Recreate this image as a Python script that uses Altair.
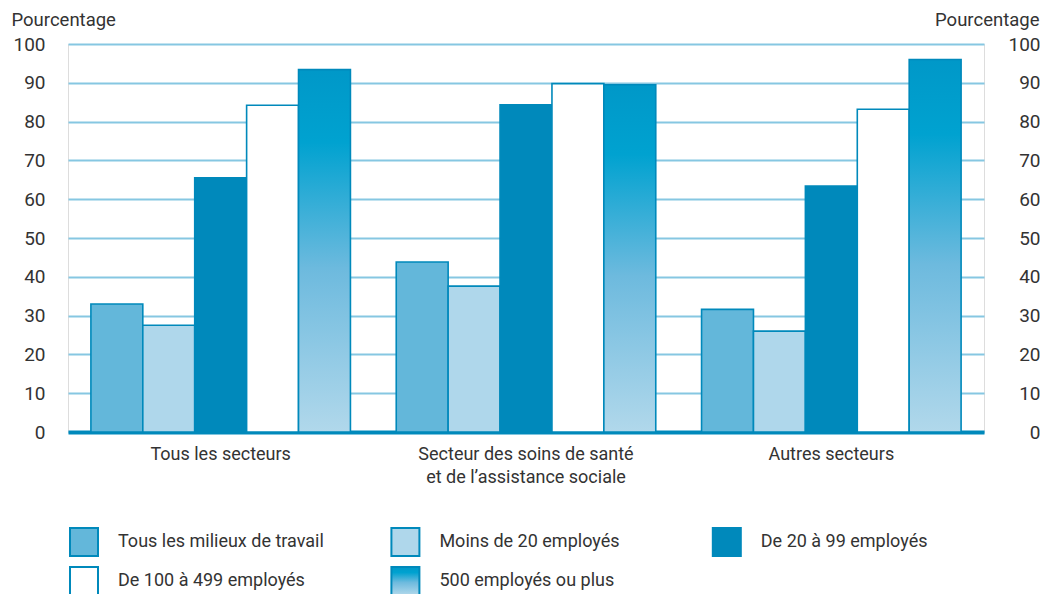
import altair as alt
import pandas as pd

categories = [
    "Tous les secteurs",
    "Secteur des soins de santé\net de l’assistance sociale",
    "Autres secteurs",
]
series = [
    "Tous les milieux de travail",
    "Moins de 20 employés",
    "De 20 à 99 employés",
    "De 100 à 499 employés",
    "500 employés ou plus",
]
tous_milieux = [33.0, 43.8, 31.6]
moins_20 = [27.5, 37.6, 26.0]
de_20_99 = [65.5, 84.3, 63.4]
de_100_499 = [84.2, 89.8, 83.2]
plus_500 = [93.4, 89.5, 96.0]
y_ticks = list(range(0, 101, 10))

fills = ["#63b7da", "#afd7eb", "#0089bb", "#ffffff", "#3aa9d4"]
edge = "#0089bb"
gradient = {
    "gradient": "linear",
    "x1": 0, "y1": 0, "x2": 0, "y2": 1,
    "stops": [
        {"offset": 0.0, "color": "#0098c8"},
        {"offset": 0.2, "color": "#00a2d0"},
        {"offset": 0.55, "color": "#6dbade"},
        {"offset": 1.0, "color": "#b1d8eb"},
    ],
}

rows = []
for s, vals in zip(series, [tous_milieux, moins_20, de_20_99, de_100_499, plus_500]):
    for c, v in zip(categories, vals):
        rows.append({"category": c, "series": s, "value": v})
df = pd.DataFrame(rows)

leg_df = pd.DataFrame({
    "series": series,
    "col": [i % 3 for i in range(len(series))],
    "row": [i // 3 for i in range(len(series))],
})

FONT = "Roboto"
TXT = "#333333"

x_enc = alt.X(
    "category:N", sort=categories,
    scale=alt.Scale(paddingInner=0.15, paddingOuter=0.075),
    axis=alt.Axis(
        title=None, labelAngle=0, labelExpr="split(datum.label, '\\n')",
        ticks=False, domain=True, domainColor=edge, domainWidth=4,
        labelFontSize=18, labelLineHeight=23.5, labelPadding=13,
        labelColor=TXT, grid=False, labelFont=FONT, labelLimit=0,
    ),
)
xoff = alt.XOffset("series:N", sort=series,
                   scale=alt.Scale(paddingInner=0, paddingOuter=0))

fill_enc = alt.condition(
    alt.datum.series == series[4],
    alt.value(gradient),
    alt.Fill("series:N", scale=alt.Scale(domain=series, range=fills), legend=None),
)

common_axis = dict(
    values=y_ticks, ticks=False, domain=False, labelFontSize=19,
    labelColor=TXT, labelFont=FONT, title="Pourcentage", titleAngle=0,
    titleFontSize=18.5, titleFontWeight="normal", titleColor=TXT, titleFont=FONT,
    titleBaseline="alphabetic", titleY=-19,
)

bars = alt.Chart(df).mark_bar(stroke=edge, strokeWidth=1.6).encode(
    x=x_enc, xOffset=xoff,
    y=alt.Y("value:Q", scale=alt.Scale(domain=[0, 100]),
            axis=alt.Axis(orient="left", grid=True, gridColor="#86c7e2",
                          gridWidth=2, labelPadding=23, titleAlign="left",
                          titleX=-57, **common_axis)),
    fill=fill_enc,
)

right = alt.Chart(df).mark_bar(opacity=0).encode(
    x=x_enc, xOffset=xoff,
    y=alt.Y("value:Q", scale=alt.Scale(domain=[0, 100]),
            axis=alt.Axis(orient="right", grid=False, labelAlign="right",
                          labelPadding=56, titleAlign="right", titleX=55,
                          **common_axis)),
)

main = alt.layer(bars, right).resolve_scale(y="independent").properties(
    width=916, height=388
)

leg_base = alt.Chart(leg_df).encode(
    x=alt.X("col:Q", scale=alt.Scale(domain=[0, 2.85]), axis=None),
    y=alt.Y("row:Q", scale=alt.Scale(domain=[0, 1], reverse=True), axis=None),
)
leg_sq = leg_base.mark_square(size=784, stroke=edge, strokeWidth=2,
                              opacity=1, xOffset=16).encode(
    fill=alt.condition(
        alt.datum.series == series[4],
        alt.value(gradient),
        alt.Fill("series:N", scale=alt.Scale(domain=series, range=fills), legend=None),
    )
)
leg_tx = leg_base.mark_text(align="left", baseline="middle", dx=50,
                            fontSize=18, font=FONT, color=TXT).encode(
    text="series:N"
)
legend = alt.layer(leg_sq, leg_tx).properties(
    width=916, height=39, view=alt.ViewBackground(stroke="transparent")
)

chart = alt.vconcat(main, legend, spacing=36).properties(
    padding={"left": 2, "top": 1, "right": 0, "bottom": 0}
).configure_view(stroke=edge, strokeWidth=2).configure(font=FONT)

chart.save("out.html", embed_options={"renderer": "svg", "actions": False})
